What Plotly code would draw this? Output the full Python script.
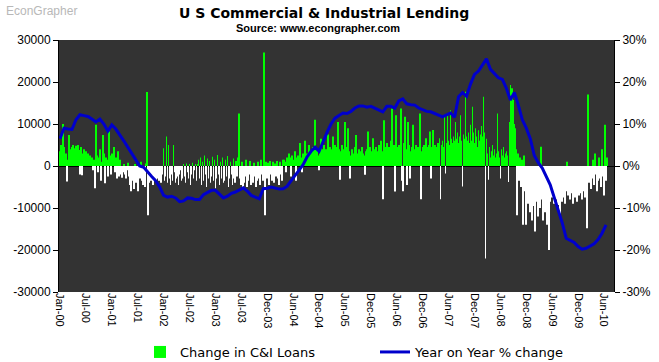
import plotly.graph_objects as go

# Weekly change in C&I loans (in hundreds), Jan-00 onward
loan_change_hundreds = [
    35, 50, 20, 100, 45, 25, 30, -37, 15, 74, 20,
    40, 45, 50, 35, 42, 48, 30, 50, 38, -20, 45, -22, 30, 40, 25, 35, 20, 30, 15, 25,
    10, 20, -10, 15, -53, 98, 25, -15, 20, 40, -35, 10, 74, 30, -41, 20, 15, -25, 82, 25,
    -20, 30, 10, 45, -15, 20, -30, 35, -25, 15, -20, -28,
    -15, 5, -20, -30, -10, 8, -25, -45, -60, -20, -35, -55, 5, -40, -25, -60, -15, -30, 10, -35,
    -45, -20, -50, 6,
    176, -117,
    -40, -25, -35, -20, -45, -30, -15, -38, -30, -20, -35, -25, -40, -30, -20, 42, -35, -25, 70, -40,
    50, -30, -45, -20, -35, 50, -15, -40, -30, -25, -45, -20, -10, -35, -30, 5, -25, -40, 6, -15,
    -30, 5, -45, -20, 8, -30, -10, 5, -35, 4,
    15, -30, 20, -45, 10, -35, 25, -20, -50, 18, -30, 12, -40, -25, 22, -35, 15, -53, -30, 26,
    -20, -45, 10, -30, 20, -40, -35, 15, -25, 24, -50, -30, 10, -20, -45, 18, -30, -40, 12, -25, 20,
    125,
    -30, -45, 10, -55, -40, -25, 15, -50, -35, -20, 12, -45, -30, -40, 8, -25, -50, -35, 10, -30,
    -45, 15, -20, -35,
    270, -117,
    10, -30, 8, -45, 12, -20, -35, 10, -40, 6, -25, 12, -30, -45, 10, -20, -35, 15,
    15, 10, -15, 20, 15, 30, 20, -25, 25, 15, 10, 35, -35, 20, 25, 15, 55, 20, -15, 30,
    25, 60, 20, 30, 25, 50, 30, 25, 35, 45, 30, 110, 30, 40, 25, -10, 35, 65, 30, 40,
    50, 35, 40, 25, 75, 30, 45, 35, 40, 70, 40, 50,
    45, 30, 105, 40, -33, 35, 50, 25, 40, 105,
    45, 30, 90, 35, -30, 25, 40, 30, 20, 45,
    74, 30, 25, 40, 20, 35, 45, 30, 25, -21,
    35, 40, 82, 30, 45, 25, 35, 66, 40, 30,
    45, 35, 25, 50, 40, 60, 35, -79, 109, 45,
    40, 55, 30, 45, 35, 60, 137, 40, 50, -61,
    121, 45, 35, 50, 40, 137, -35, -60, 55, 117,
    40, -45, 105, 50, -30, 35, 45, 98, 40, 30,
    50, 35, 45, 40, 125, -79, 35, 45, 50, 40,
    66, 45, 35, 50, 82, -30, 45, 86, 40, 50,
    35, 45, 55, 40, 66, -79, 50, 60, 45, 117,
    -18, 55, 121, 60, 50, 133, 65, 55, 70, 60,
    105, 65, 80, 55, 70, 121, 60, -49, 75, 65,
    177, 70, 60, 80, 55, 98,
    60, 141, 80, 55, 90, 70, 45, 85, 60, 75, 95, 70, 165, 80, -220, 65,
    30, -33, 45, 20, 35, 50, 25, 40, 20, 30, 125, 35, 20, -30, 40, 25, 45, 20, 30, 35, 25,
    -38, 105, 193, 110, 185, 157, 100, 90, 40,
    -117, 30, -35, 20, -50, 15, -140, 25, -60, -140,
    -45, -90, -60, -110, -75, -130, -50, -95, -156, -70, -85, -120, -60, -100, 46, -80,
    -130, -65, -110, -90, -140, -95, -200, -85,
    -60, -75, -50, -90, -65, -80, -55, -93, -70, -117, -60, -85, -50, -75, -90, -60, 10, -70,
    -55, -80, -45, -65, -90, -50, -75, -60, -85, -55, -70, -45, -65, -80, -50, -60, -75, -55, -148,
    170,
    -40, -25, -55, -30, 15, -45, 30, -20, -60, -35, 20, -30, -50, 40, -25, -70, 98, -35, 20,
]

# Year-on-year % change, read every 4 weeks
yoy_pct = [
    6.5, 9.0, 8.8, 8.7, 11.0, 12.2, 12.0, 11.8, 11.2, 10.5, 11.2, 10.0, 8.3, 9.8, 8.8, 7.5,
    6.0, 4.5, 3.0, 1.5, 0.0, -0.3, -1.5, -2.5, -3.5, -5.0, -7.0, -7.4, -7.2, -7.6, -8.5, -8.3,
    -7.6, -7.7, -8.0, -8.0, -6.8, -6.2, -5.8, -5.8, -6.8, -7.6, -7.2, -6.5, -6.2, -5.6, -5.2, -6.0,
    -7.0, -7.4, -7.8, -5.4, -5.3, -5.0, -5.2, -5.5, -5.4, -4.8, -3.5, -2.1, -1.0, 0.3, 2.2, 3.5,
    4.5, 3.5, 6.0, 8.0, 10.0, 11.4, 12.0, 12.6, 12.5, 13.0, 13.8, 14.3, 14.3, 14.0, 14.2, 13.8,
    13.3, 12.9, 14.2, 14.2, 13.8, 15.5, 16.0, 14.8, 14.6, 14.5, 13.8, 13.3, 13.0, 12.9, 12.5, 12.0,
    11.7, 12.2, 12.6, 11.6, 16.5, 17.5, 16.6, 19.5, 21.8, 22.6, 24.0, 25.5, 23.0, 22.0, 21.0, 20.6,
    18.5, 15.7, 17.5, 14.5, 11.0, 9.0, 6.5, 2.5, 0.8, -0.5, -2.5, -4.5, -7.5, -10.5, -13.5, -17.2,
    -17.8, -18.2, -19.2, -19.8, -19.6, -19.0, -18.5, -17.5, -16.0, -14.0,
]

tick_labels = ["Jan-00", "Jul-00", "Jan-01", "Jul-01", "Jan-02", "Jul-02", "Jan-03", "Jul-03",
               "Dec-03", "Jun-04", "Dec-04", "Jun-05", "Dec-05", "Jun-06", "Dec-06", "Jun-07",
               "Dec-07", "Jun-08", "Dec-08", "Jun-09", "Dec-09", "Jun-10"]
left_ticks = [-30000, -20000, -10000, 0, 10000, 20000, 30000]
left_tick_text = ["-30000", "-20000", "-10000", "0", "10000", "20000", "30000"]
right_ticks = [-30, -20, -10, 0, 10, 20, 30]
right_tick_text = ["-30%", "-20%", "-10%", "0%", "10%", "20%", "30%"]

bars = [v * 100 for v in loan_change_hundreds]
weeks = list(range(len(bars)))
bar_colors = ["#00FF00" if v >= 0 else "#FFFFFF" for v in bars]
yoy_weeks = [4 * i for i in range(len(yoy_pct))]

FONT = "Arial, Liberation Sans, sans-serif"
WIDE = "DejaVu Sans, Arial, sans-serif"
PLOT_H = 362 - 40 - 70
PLOT_W = 659 - 59 - 45

fig = go.Figure()
fig.add_trace(go.Bar(x=weeks, y=bars, marker=dict(color=bar_colors, line=dict(width=0)),
                     name="Change in C&I Loans", showlegend=True))
fig.add_trace(go.Scatter(x=yoy_weeks, y=yoy_pct, mode="lines", yaxis="y2",
                         line=dict(color="#0000CC", width=3), name="Year on Year % change"))

fig.update_layout(
    width=659, height=362,
    margin=dict(l=59, r=45, t=40, b=70, autoexpand=False),
    paper_bgcolor="white", plot_bgcolor="#333333",
    bargap=0.25,
    font=dict(family=FONT, size=11, color="black"),
    xaxis=dict(range=[-1, 556], tickmode="array",
               tickvals=[26 * i for i in range(len(tick_labels))], ticktext=tick_labels,
               tickangle=90, showgrid=False, zeroline=False, showline=False, ticks="",
               tickfont=dict(size=11), automargin=False),
    yaxis=dict(range=[-30000, 30000], tickmode="array", tickvals=left_ticks,
               ticktext=left_tick_text, showgrid=False,
               zeroline=True, zerolinecolor="black", zerolinewidth=1,
               showline=True, linecolor="black", linewidth=1, ticks="outside",
               ticklen=5, tickcolor="black", tickfont=dict(size=12), automargin=False),
    yaxis2=dict(range=[-30, 30], tickmode="array", tickvals=right_ticks,
                ticktext=right_tick_text, overlaying="y",
                side="right", showgrid=False, zeroline=False, showline=True,
                linecolor="black", linewidth=1, ticks="outside", ticklen=5,
                tickcolor="black", tickfont=dict(size=12), automargin=False),
    legend=dict(orientation="h", xref="container", yref="container",
                x=140 / 659, xanchor="left", y=1 - 352 / 362, yanchor="middle",
                font=dict(size=13, family=WIDE), bgcolor="rgba(0,0,0,0)",
                entrywidth=190, entrywidthmode="pixels"),
    annotations=[
        dict(text="<b>U S Commercial & Industrial Lending</b>", xref="paper", yref="paper",
             x=(324 - 59) / PLOT_W, y=1 + (40 - 13) / PLOT_H, xanchor="center",
             yanchor="middle", showarrow=False, font=dict(size=14, family=WIDE)),
        dict(text="<b>Source: www.econgrapher.com</b>", xref="paper", yref="paper",
             x=(318 - 59) / PLOT_W, y=1 + (40 - 28) / PLOT_H, xanchor="center",
             yanchor="middle", showarrow=False, font=dict(size=11, family=FONT)),
        dict(text="EconGrapher", xref="paper", yref="paper",
             x=(4 - 59) / PLOT_W, y=1 + (40 - 11) / PLOT_H, xanchor="left",
             yanchor="middle", showarrow=False, font=dict(size=12, color="#B8B8B8", family=FONT)),
    ],
)

fig.write_html("out.html", config={"displayModeBar": False},
               post_script="document.body.style.margin='0';")
